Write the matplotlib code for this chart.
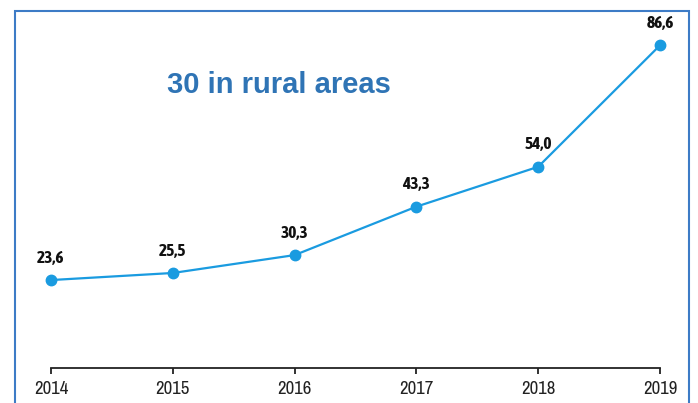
import matplotlib.pyplot as plt
from matplotlib.patches import Rectangle

years = [2014, 2015, 2016, 2017, 2018, 2019]
values = [23.6, 25.5, 30.3, 43.3, 54.0, 86.6]
labels = ["23,6", "25,5", "30,3", "43,3", "54,0", "86,6"]

NARROW_BOLD = ["Liberation Sans Narrow", "Asap Condensed", "DejaVu Sans"]
NARROW = ["Liberation Sans Narrow", "Archivo Narrow", "DejaVu Sans"]

W, H = 698, 403
fig = plt.figure(figsize=(W / 100, H / 100), dpi=100)

# blue frame around the chart (bottom edge runs off the image)
fig.patches.append(Rectangle((15 / W, -0.05), (689 - 15) / W, 1.05 - 11 / H,
                             transform=fig.transFigure, fill=False,
                             edgecolor="#3d7bc6", linewidth=1.5))

ymax = 95
ax = fig.add_axes([51 / W, (H - 368) / H, (660 - 51) / W, (368 - 14) / H])
ax.plot(years, values, color="#1a9be0", linewidth=1.6, marker="o",
        markersize=7.5, clip_on=False, zorder=3)
for x, y, t in zip(years, values, labels):
    ax.annotate(t, (x, y), xytext=(0, 12.5), textcoords="offset points",
                ha="center", va="baseline", fontsize=12.5, fontweight="bold",
                family=NARROW_BOLD, color="#111111")

ax.set_xlim(2014, 2019)
ax.set_ylim(0, ymax)
ax.set_xticks(years)
ax.set_xticklabels([str(y) for y in years], fontsize=13.5,
                   family=NARROW, color="#222222")
ax.set_yticks([])
for s in ["left", "right", "top"]:
    ax.spines[s].set_visible(False)
ax.spines["bottom"].set_linewidth(1.3)
ax.spines["bottom"].set_color("#222222")
ax.tick_params(axis="x", length=4, width=1.3, pad=5, direction="out",
               color="#222222")

fig.text(279 / W, (H - 85) / H, "30 in rural areas", ha="center", va="center",
         fontsize=21, fontweight="bold", family="Liberation Sans", color="#2f74b5")

fig.savefig("out.png", dpi=100)
